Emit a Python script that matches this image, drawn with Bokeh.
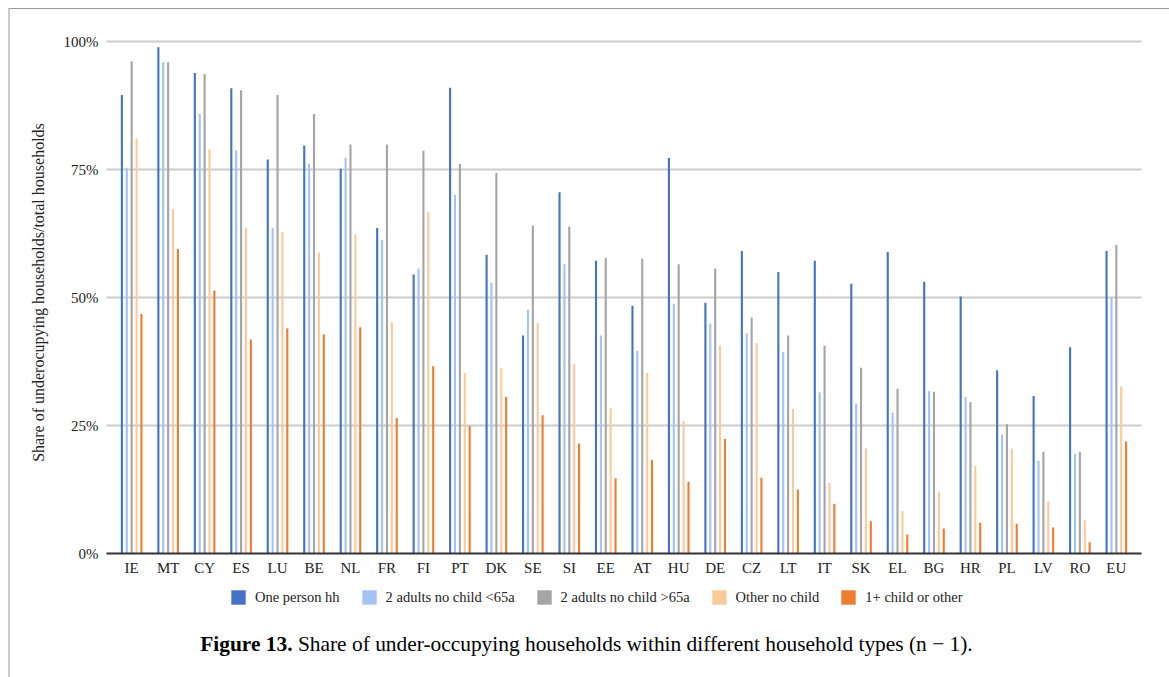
from bokeh.plotting import figure
from bokeh.models import (FactorRange, Range1d, FixedTicker, Legend, LegendItem, Div)
from bokeh.layouts import column
from bokeh.transform import dodge
from bokeh.embed import file_html
from bokeh.resources import INLINE

countries = ["IE", "MT", "CY", "ES", "LU", "BE", "NL", "FR", "FI", "PT", "DK", "SE", "SI", "EE",
             "AT", "HU", "DE", "CZ", "LT", "IT", "SK", "EL", "BG", "HR", "PL", "LV", "RO", "EU"]

one_person = [89.6, 98.9, 93.9, 90.9, 77.0, 79.7, 75.2, 63.6, 54.5, 91.0, 58.4, 42.6, 70.6, 57.2,
              48.4, 77.3, 49.0, 59.1, 55.0, 57.2, 52.7, 58.9, 53.1, 50.2, 35.8, 30.8, 40.3, 59.1]
adults_lt65 = [75.4, 96.0, 85.9, 78.8, 63.6, 76.2, 77.3, 61.3, 55.7, 70.1, 52.9, 47.6, 56.5, 42.6,
               39.6, 48.8, 44.9, 43.0, 39.4, 31.5, 29.3, 27.5, 31.7, 30.6, 23.2, 18.1, 19.5, 50.0]
adults_gt65 = [96.2, 96.0, 93.7, 90.5, 89.6, 85.9, 79.9, 79.9, 78.7, 76.1, 74.4, 64.1, 63.9, 57.8,
               57.6, 56.5, 55.7, 46.1, 42.6, 40.6, 36.3, 32.2, 31.6, 29.6, 25.3, 19.9, 19.9, 60.3]
other_nochild = [81.1, 67.3, 79.0, 63.6, 62.8, 58.8, 62.4, 45.2, 66.8, 35.3, 36.3, 45.0, 37.0, 28.4,
                 35.3, 25.9, 40.6, 41.1, 28.2, 13.8, 20.5, 8.3, 12.1, 17.1, 20.5, 10.2, 6.5, 32.7]
child_other = [46.8, 59.5, 51.4, 41.8, 44.0, 42.8, 44.2, 26.5, 36.6, 24.9, 30.6, 27.0, 21.5, 14.7,
               18.3, 14.0, 22.4, 14.8, 12.5, 9.7, 6.3, 3.7, 4.9, 6.0, 5.8, 5.1, 2.2, 21.9]

series_names = ["One person hh", "2 adults no child <65a", "2 adults no child >65a",
                "Other no child", "1+ child or other"]
series_colors = ["#4472c4", "#a4c2f4", "#a5a5a5", "#f9cb9c", "#ed7d31"]
tick_values = [0, 25, 50, 75, 100]
tick_labels = ["0%", "25%", "50%", "75%", "100%"]
caption_bold = "Figure 13."
caption_text = "Share of under-occupying households within different household types (n \u2212 1)."

FONT = "Liberation Serif"

data = dict(country=countries, s0=one_person, s1=adults_lt65, s2=adults_gt65,
            s3=other_nochild, s4=child_other)

# main chart: content starts at page (10, 9); frame x 106..1141, y 31..553
p = figure(width=1153, height=573, output_backend="svg", toolbar_location=None,
           x_range=FactorRange(factors=countries, range_padding=0.19,
                               range_padding_units="absolute"),
           y_range=Range1d(0, 102),
           min_border_left=96, min_border_right=22, min_border_top=22, min_border_bottom=29)
p.outline_line_color = None
p.background_fill_color = "white"
p.border_fill_color = "white"

step = 0.134
for i, (name, col) in enumerate(zip(series_names, series_colors)):
    p.vbar(x=dodge("country", (i - 2) * step, range=p.x_range), top="s%d" % i,
           width=0.058, source=data, color=col, line_color=None)

p.yaxis.ticker = FixedTicker(ticks=tick_values)
p.yaxis.major_label_overrides = {v: l for v, l in zip(tick_values, tick_labels)}
p.yaxis.axis_line_color = None
p.yaxis.major_tick_line_color = None
p.yaxis.major_tick_out = 0
p.yaxis.minor_tick_line_color = None
p.yaxis.major_label_standoff = 8
p.yaxis.major_label_text_font = FONT
p.yaxis.major_label_text_font_size = "15px"
p.yaxis.major_label_text_color = "#222222"
p.yaxis.axis_label = "Share of underocupying households/total households"
p.yaxis.axis_label_text_font = FONT
p.yaxis.axis_label_text_font_size = "16px"
p.yaxis.axis_label_text_font_style = "normal"
p.yaxis.axis_label_text_color = "#222222"
p.yaxis.axis_label_standoff = 14

p.xaxis.axis_line_color = "#333333"
p.xaxis.axis_line_width = 2
p.xaxis.major_tick_line_color = None
p.xaxis.major_tick_out = 0
p.xaxis.minor_tick_line_color = None
p.xaxis.major_label_standoff = 6
p.xaxis.major_label_text_font = FONT
p.xaxis.major_label_text_font_size = "15px"
p.xaxis.major_label_text_color = "#222222"

p.xgrid.grid_line_color = None
p.ygrid.ticker = FixedTicker(ticks=tick_values)
p.ygrid.grid_line_color = "#cccccc"
p.ygrid.grid_line_width = 2

# legend strip: page y 582..612 (its frame is aligned with the chart frame above)
lg = figure(width=1153, height=30, output_backend="svg", toolbar_location=None,
            x_range=Range1d(0, 1), y_range=Range1d(0, 1),
            x_axis_location=None, y_axis_location=None,
            min_border=0, outline_line_color=None)
lg.grid.visible = False
lg.background_fill_color = "white"
lg.border_fill_color = "white"
items = []
for name, col in zip(series_names, series_colors):
    # zero-size placeholder glyph, only used to draw the legend swatch
    r = lg.vbar(x=[0], top=[0], width=0, color=col, line_color=None)
    items.append(LegendItem(label=name, renderers=[r]))
legend = Legend(items=items, orientation="horizontal", location=(123, 6))
legend.glyph_width = 18
legend.glyph_height = 18
legend.label_standoff = 8
legend.spacing = 20
legend.padding = 0
legend.margin = 0
legend.border_line_color = None
legend.background_fill_alpha = 0
legend.label_text_font = FONT
legend.label_text_font_size = "14.5px"
legend.label_text_color = "#222222"
lg.add_layout(legend)

cap = Div(text=('<div style="text-align:center;font-family:\'Liberation Serif\';font-size:21.4px;'
                'color:#000;padding-top:12px;width:1153px;position:relative;left:-5px;">'
                '<b>%s</b> %s</div>') % (caption_bold, caption_text),
          width=1153, height=63)

layout = column(p, lg, cap, spacing=0)
layout.margin = (8, 0, 0, 8)
layout.styles = {"border-top": "1px solid #9a9a9a", "border-left": "2px solid #cccccc",
                 "border-right": "2px solid #cccccc", "background": "white"}

open("out.html", "w").write(file_html(layout, INLINE))
